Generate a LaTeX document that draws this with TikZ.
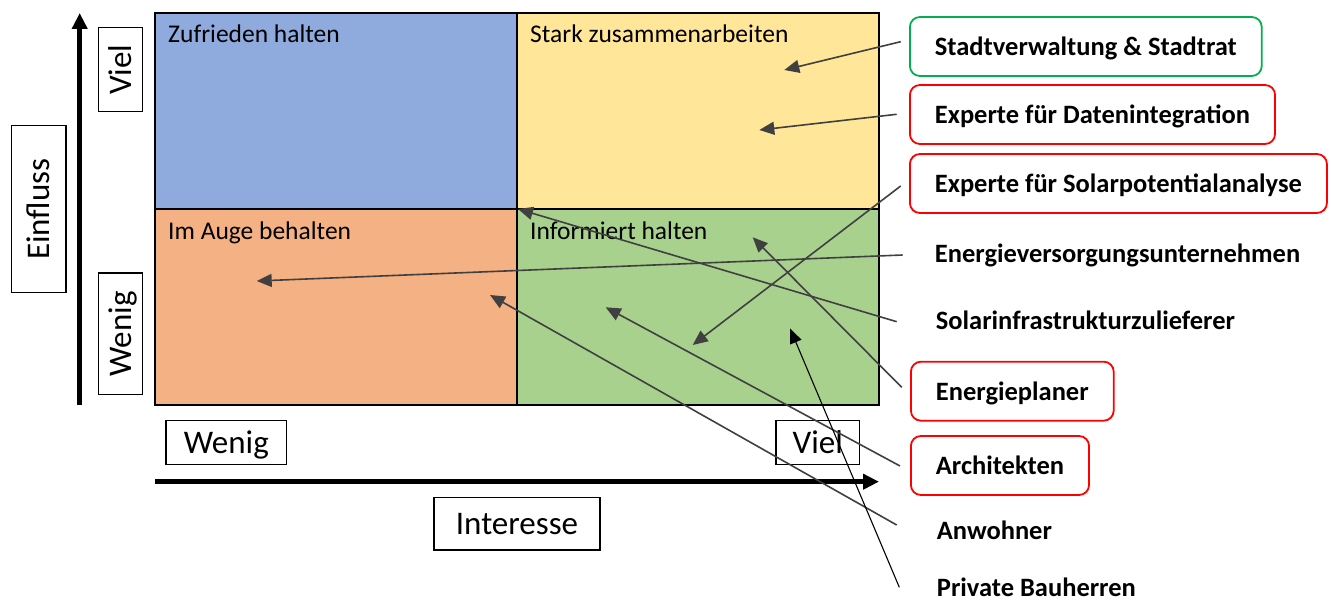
\documentclass[tikz,border=0pt]{standalone}
\usepackage{fontspec}
\setmainfont{Carlito}
\usetikzlibrary{arrows.meta,calc}
\definecolor{qblue}{HTML}{8FAADC}
\definecolor{qyellow}{HTML}{FFE699}
\definecolor{qorange}{HTML}{F4B183}
\definecolor{qgreen}{HTML}{A9D18E}
\definecolor{boxgreen}{HTML}{00B050}
\definecolor{boxred}{HTML}{FF0000}
\definecolor{arrgray}{HTML}{404040}
\tikzset{
  quad/.style={draw=black, line width=1.6pt},
  qlabel/.style={anchor=base west, inner sep=0pt, font=\fontsize{25.5}{30}\selectfont},
  axisbox/.style={draw=black, line width=1.3pt, inner sep=0pt, text height=21pt, text depth=0pt,
    font=\fontsize{33}{40}\selectfont},
  axisarrow/.style={line width=4.5pt, -{Triangle[length=16pt,width=15pt]}},
  lab/.style={anchor=base west, inner xsep=25pt, inner ysep=10pt, text height=29pt, text depth=10pt,
    rounded corners=10pt, line width=1.8pt, font=\fontsize{26.5}{32}\selectfont\bfseries},
  greenbox/.style={lab, draw=boxgreen},
  redbox/.style={lab, draw=boxred},
  plain/.style={lab, draw=none},
  conn/.style={draw=arrgray, line width=1.6pt, -{Triangle[length=15pt,width=13pt]}},
  connblack/.style={draw=black, line width=1.1pt, -{Triangle[length=15pt,width=12pt]}}
}
\begin{document}
\begin{tikzpicture}[x=1pt,y=-1pt]
\useasboundingbox (0,0) rectangle (1331,601);

% quadrants
\path[quad, fill=qblue] (155,13) rectangle (517,209);
\path[quad, fill=qyellow] (517,13) rectangle (879,209);
\path[quad, fill=qorange] (155,209) rectangle (517,405);
\path[quad, fill=qgreen] (517,209) rectangle (879,405);

\node[qlabel] (q1) at (168,43) {Zufrieden halten};
\node[qlabel] (q2) at (530,43) {Stark zusammenarbeiten};
\node[qlabel] (q3) at (168,240) {Im Auge behalten};
\node[qlabel] (q4) at (530,240) {Informiert halten};

% axes
\coordinate (yb) at (79.7,405);
\coordinate (yt) at (79.7,13);
\draw[axisarrow] (yb) -- (yt);
\coordinate (xl) at (155,481.7);
\coordinate (xr) at (879,481.7);
\draw[axisarrow] (xl) -- (xr);

% axis labels
\node[axisbox, rotate=90, minimum width=84pt, minimum height=44.4pt] (yviel) at (120.5,69.7) {Viel};
\node[axisbox, rotate=90, minimum width=121.3pt, minimum height=44.4pt] (ywenig) at (120.5,333.7) {Wenig};
\node[axisbox, rotate=90, minimum width=167pt, minimum height=54.3pt] (einfluss) at (38.9,209.2) {Einfluss};
\node[axisbox, minimum width=120.7pt, minimum height=44pt] (xwenig) at (226.3,442.7) {Wenig};
\node[axisbox, minimum width=83.3pt, minimum height=44pt] (xviel) at (817.7,442.7) {Viel};
\node[axisbox, minimum width=166pt, minimum height=52.7pt] (interesse) at (517,523.7) {Interesse};

% stakeholder labels
\node[greenbox] (l1) at (909,56) {Stadtverwaltung \& Stadtrat};
\node[redbox] (l2) at (909,124) {Experte für Datenintegration};
\node[redbox] (l3) at (909,193) {Experte für Solarpotentialanalyse};
\node[plain] (l4) at (909,263) {Energieversorgungsunternehmen};
\node[plain] (l5) at (910,330) {Solarinfrastrukturzulieferer};
\node[redbox] (l6) at (910,400.7) {Energieplaner};
\node[redbox] (l7) at (910,475) {Architekten};
\node[plain] (l8) at (911,539) {Anwohner};
\node[plain, text depth=0pt, inner ysep=0pt] (l9) at (911,596.5) {Private Bauherren};

% arrow targets
\coordinate (t1) at (784.3,70);
\coordinate (t2) at (759.3,130);
\coordinate (t3) at (692.7,345);
\coordinate (t4) at (256.7,281);
\coordinate (t5) at (518,209);
\coordinate (t6) at (752.7,237.3);
\coordinate (t7) at (605.7,307.3);
\coordinate (t8) at (490,295);
\coordinate (t9) at (790,328.3);

% connectors
\draw[conn] ($(l1.base west)+(-8.3,-14.3)$) -- (t1);
\draw[conn] ($(l2.base west)+(-12.3,-9.7)$) -- (t2);
\draw[conn] ($(l3.base west)+(-8.3,-7)$) -- (t3);
\draw[conn] ($(l4.base west)+(-6.3,-8)$) -- (t4);
\draw[conn] ($(l5.base west)+(-13.3,-8.3)$) -- (t5);
\draw[conn] ($(l6.base west)+(-8.3,-13.4)$) -- (t6);
\draw[conn] ($(l7.base west)+(-10,-9)$) -- (t7);
\draw[conn] ($(l8.base west)+(-14.3,-14)$) -- (t8);
\draw[connblack] ($(l9.base west)+(-11.7,-9.2)$) -- (t9);
\end{tikzpicture}
\end{document}
